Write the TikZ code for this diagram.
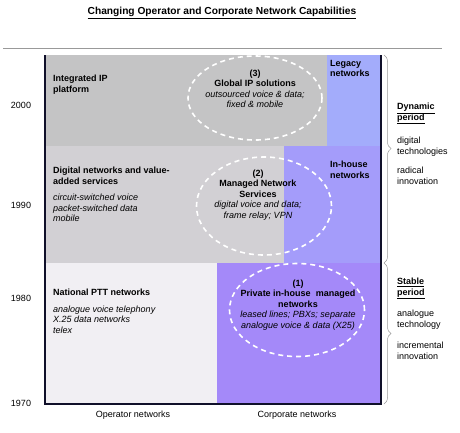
\documentclass[tikz,border=0pt]{standalone}
\usepackage{fontspec}
\setmainfont{Liberation Sans}
\usepackage{xcolor}
\definecolor{rowtop}{HTML}{C4C4C5}
\definecolor{rowmid}{HTML}{D2D0D4}
\definecolor{rowlow}{HTML}{F1EFF3}
\definecolor{legacyblue}{HTML}{A3ACFB}
\definecolor{inhouseblue}{HTML}{A49CFA}
\definecolor{privpurple}{HTML}{A489F9}
\definecolor{axisnavy}{HTML}{10102A}
\usepackage{tikz}
\usetikzlibrary{shapes.geometric,positioning,decorations.pathreplacing}

\begin{document}
\begin{tikzpicture}[
  x=1pt,y=-1pt,
  font=\fontsize{9}{10.5}\selectfont,
  txt/.style={anchor=north west,inner sep=0pt,align=left},
  year/.style={anchor=base,inner sep=0pt},
  oval/.style={ellipse,draw=white,line width=1.6pt,dash pattern=on 5pt off 4pt,
    inner sep=0pt},
  ovaltxt/.style={inner sep=0pt,align=center},
  brc/.style={decorate,decoration={brace,amplitude=7pt},draw=gray!80,line width=0.5pt}
]
  \useasboundingbox (0,0) rectangle (460,432);
  % Title and rule
  \node[inner sep=0pt] (title) at (222,13)
    {\fontsize{10.2}{12}\selectfont\bfseries\underline{Changing Operator and Corporate Network Capabilities}};
  \coordinate (rulel) at (3,48);
  \coordinate (ruler) at (442,48);
  \draw[gray!80,line width=0.6pt] (rulel)--(ruler);
  % Rows and columns
  \fill[rowtop] (45,55) rectangle (381,146);
  \fill[legacyblue] (327,55) rectangle (381,146);
  \fill[rowmid] (45,146) rectangle (381,263);
  \fill[inhouseblue] (284,146) rectangle (381,263);
  \fill[rowlow] (45,263) rectangle (217,404);
  \fill[privpurple] (217,263) rectangle (381,404);
  % Axes
  \coordinate (tl) at (45,55);
  \coordinate (bl) at (45,404);
  \coordinate (br) at (381,404);
  \coordinate (tr) at (381,55);
  \draw[axisnavy,line width=1.4pt] (tl)--(bl)--(br)--(tr);
  % Years
  \node[year] (y2000) at (21,108) {2000};
  \node[year] (y1990) at (21,208) {1990};
  \node[year] (y1980) at (21,301) {1980};
  \node[year] (y1970) at (21,406) {1970};
  % Operator side
  \node[txt] (ip) at (53,75) {\bfseries Integrated IP\\\bfseries platform};
  \node[txt] (digi) at (53,167) {\bfseries Digital networks and value-\\\bfseries added services\\[6pt]
    \itshape circuit-switched voice\\\itshape packet-switched data\\\itshape mobile};
  \node[txt] (ptt) at (53,289) {\bfseries National PTT networks\\[6pt]
    \itshape analogue voice telephony\\\itshape X.25 data networks\\\itshape telex};
  % Corporate side
  \node[txt] (legacy) at (330,60) {\bfseries Legacy\\\bfseries networks};
  \node[txt] (inhouse) at (330,161) {\bfseries In-house\\\bfseries networks};
  % Ovals
  \node[oval,minimum width=134pt,minimum height=84pt] (ov3) at (255,98) {};
  \node[oval,minimum width=135pt,minimum height=98pt] (ov2) at (264,206) {};
  \node[oval,minimum width=135pt,minimum height=93pt] (ov1) at (297,310) {};
  \node[ovaltxt] (t3) at (255,89) {\bfseries (3)\\\bfseries Global IP solutions\\
    \itshape outsourced voice \& data;\\\itshape fixed \& mobile};
  \node[ovaltxt] (t2) at (258,195) {\bfseries (2)\\\bfseries Managed Network\\\bfseries Services\\
    \itshape digital voice and data;\\\itshape frame relay; VPN};
  \node[ovaltxt] (t1) at (298,305) {\bfseries (1)\\\bfseries Private in-house\ \ managed\\\bfseries networks\\
    \itshape leased lines; PBXs; separate\\\itshape analogue voice \& data (X25)};
  % Axis labels
  \node[inner sep=0pt] (oper) at (133,415) {Operator networks};
  \node[inner sep=0pt] (corp) at (297,415) {Corporate networks};
  % Braces
  \coordinate (b1t) at (384,55);
  \coordinate (b1b) at (384,263);
  \coordinate (b2b) at (384,404);
  \draw[brc,decoration={aspect=0.45}] (b1t)--(b1b);
  \draw[brc] (b1b)--(b2b);
  \node[txt] (dyn) at (397,103) {\bfseries\underline{Dynamic}\\\bfseries\underline{period}};
  \node[txt] (dtech) at (397,137) {digital\\technologies};
  \node[txt] (radi) at (397,167) {radical\\innovation};
  \node[txt] (stab) at (397,278) {\bfseries\underline{Stable}\\\bfseries\underline{period}};
  \node[txt] (atech) at (397,310) {analogue\\technology};
  \node[txt] (incr) at (397,342) {incremental\\innovation};
\end{tikzpicture}
\end{document}
